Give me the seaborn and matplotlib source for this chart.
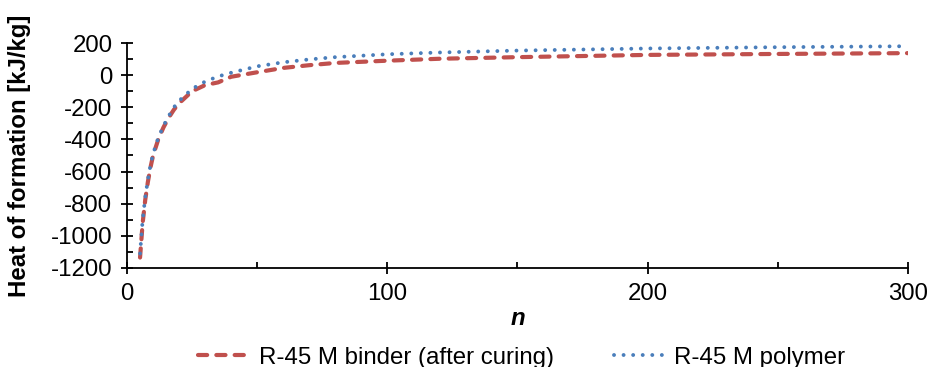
# Heat of formation vs n, two series
import pandas as pd
import seaborn as sns
import matplotlib.pyplot as plt
from matplotlib.ticker import MultipleLocator

# Values
n_vals = [5, 6, 7, 8, 9, 10, 12, 14, 16, 18, 20, 25, 30, 35, 40, 50,
          60, 70, 80, 100, 120, 150, 200, 250, 300]
binder_vals = [-1135, -920, -775, -665, -575, -500, -400, -325, -265, -215,
               -175, -100, -62, -45, -10, 18, 45, 62, 76, 90, 102, 112,
               126, 132, 137]
polymer_vals = [-1110, -900, -760, -650, -560, -490, -390, -315, -255, -200,
                -160, -85, -40, -8, 15, 55, 80, 98, 112, 130, 141, 153,
                166, 174, 180]
binder_label = "R-45 M binder (after curing)"
polymer_label = "R-45 M polymer"

sns.set_style("ticks")
plt.rcParams['font.family'] = ['Liberation Sans', 'DejaVu Sans']
plt.rcParams['axes.unicode_minus'] = False
plt.rcParams['text.color'] = 'black'
plt.rcParams['axes.labelcolor'] = 'black'
fs = 17.3

df = pd.DataFrame({"n": n_vals, "binder": binder_vals, "polymer": polymer_vals})

fig = plt.figure(figsize=(9.3, 3.67), dpi=100)
ax = fig.add_axes([0.1366, 0.2698, 0.8397, 0.613])

sns.lineplot(data=df, x="n", y="binder", ax=ax, color="#C0504D", lw=3.0,
             linestyle=(0, (2.2, 2.2)), dash_capstyle="round", label=binder_label)
sns.lineplot(data=df, x="n", y="polymer", ax=ax, color="#4A7EBB", lw=2.8,
             linestyle=(0, (0.01, 2.45)), dash_capstyle="round", label=polymer_label)

ax.set_xlim(0, 300)
ax.set_ylim(-1200, 200)
ax.xaxis.set_major_locator(MultipleLocator(100))
ax.xaxis.set_minor_locator(MultipleLocator(50))
ax.yaxis.set_major_locator(MultipleLocator(200))
ax.yaxis.set_minor_locator(MultipleLocator(100))

sns.despine(ax=ax)
for s in ["left", "bottom"]:
    ax.spines[s].set_color("black")
    ax.spines[s].set_linewidth(1.3)

ax.tick_params(which="major", direction="inout", length=9, width=1.3,
               colors="black", labelsize=fs)
ax.tick_params(which="minor", direction="in", length=4.5, width=1.3, colors="black")
ax.tick_params(axis="y", which="major", pad=6)
ax.tick_params(axis="x", which="major", pad=6)

ax.set_ylabel("Heat of formation [kJ/kg]", fontsize=fs, fontweight="bold", labelpad=14)
ax.set_xlabel("n", fontsize=fs, fontweight="bold", fontstyle="italic", labelpad=2)

handles, labels = ax.get_legend_handles_labels()
ax.get_legend().remove()
fig.legend(handles, labels, loc="center", bbox_to_anchor=(0.561, 0.025), ncol=2,
           frameon=False, fontsize=fs, handlelength=2.07, handletextpad=0.45,
           columnspacing=2.5)

fig.savefig("out.png", dpi=100)
